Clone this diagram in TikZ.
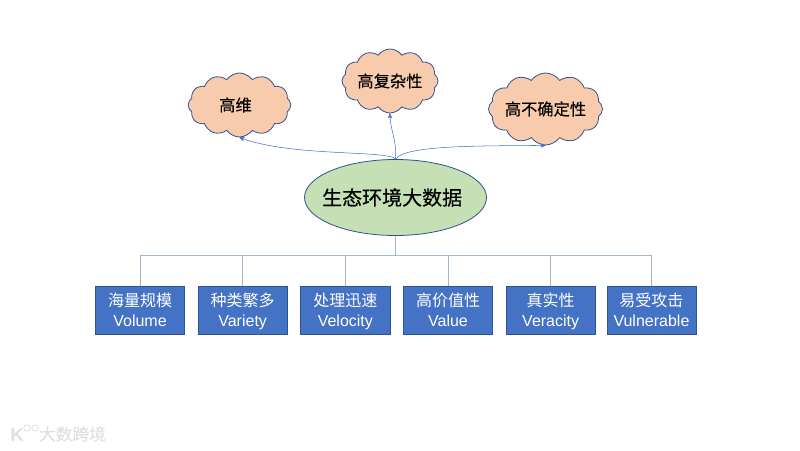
\documentclass[tikz,border=0pt]{standalone}
\usepackage{fontspec}
\setmainfont{Noto Sans CJK SC}
\newfontfamily\heavyfont[FakeBold=0.4]{Noto Sans CJK SC}
\newfontfamily\latinfont{Liberation Sans}
\usetikzlibrary{arrows,positioning,shapes}
\definecolor{boxblue}{HTML}{4472C4}
\definecolor{edgeblue}{HTML}{2F528F}
\definecolor{barblue}{HTML}{A3B8CC}
\definecolor{leafgreen}{HTML}{C5E0B4}
\definecolor{peach}{HTML}{F8CBAD}

\begin{document}
\begin{tikzpicture}[x=0.75pt,y=-0.75pt,>=stealth',node distance=9.6pt]
\tikzstyle{every cloud}=[cloud,cloud puffs=12,cloud puff arc=110,cloud ignores aspect,fill=peach,draw=edgeblue,semithick,inner sep=0pt,font=\heavyfont\fontsize{12.2}{14}\selectfont]
\tikzstyle{every box}=[rectangle,fill=boxblue,draw=edgeblue,text=white,minimum width=67pt,minimum height=36pt,inner sep=0pt,text depth=0pt,align=center,font=\fontsize{12}{15}\selectfont]
\tikzstyle{spread}=[->,color=boxblue,thin,shorten >=0pt]
\tikzstyle{bar}=[color=barblue,semithick]
\useasboundingbox (0,0) rectangle (800,450);

\node[ellipse,fill=leafgreen,draw=edgeblue,semithick,minimum width=136.5pt,minimum height=57pt,inner xsep=-6pt,inner ysep=0pt,font=\heavyfont\fontsize{15}{17}\selectfont] (data) at (395.5,197.5) {\hspace*{-5pt}生态环境大数据};

\node[every cloud,minimum width=77pt,minimum height=48pt] (dim) at (239.5,105) {\hspace*{-6pt}高维};
\node[every cloud,minimum width=72pt,minimum height=48pt] (cpx) at (390,81) {高复杂性};
\node[every cloud,minimum width=83pt,minimum height=54pt] (unc) at (545.5,109) {高不确定性};

\node[every box] (vol) at (140,310) {海量规模\\{\latinfont Volume}};
\node[every box] (var) [right=of vol] {种类繁多\\{\latinfont Variety}};
\node[every box] (vel) [right=of var] {处理迅速\\{\latinfont Velocity}};
\node[every box] (val) [right=of vel] {高价值性\\{\latinfont Value}};
\node[every box] (ver) [right=of val] {真实性\\{\latinfont Veracity}};
\node[every box] (vul) [right=8.2pt of ver] {易受攻击\\{\latinfont Vulnerable}};

% cloud arrows
\draw[spread] (data.north) .. controls (390,150) and (290,157) .. (dim.south);
\draw[spread] (data.north) .. controls (397,140) and (390,130) .. (cpx.south);
\draw[spread] (data.north) .. controls (405,145) and (480,146) .. (unc.south);

% tree below the ellipse
\coordinate (fork) at (395.5,255);
\foreach \n in {vol,var,vel,val,ver,vul}
  \draw[bar] (data.south) -- (fork) -| (\n.north);

% faint mark in the corner
\node[text=black!12,font=\heavyfont\fontsize{12.5}{14}\selectfont] (mark) at (72.5,434) {大数跨境};
\node[text=black!12,font=\latinfont\bfseries\fontsize{14}{14}\selectfont] (logo) at (17,435) {K};
\draw[black!12,semithick] (27,428) circle (3.2) (35,428) circle (3.2);
\end{tikzpicture}
\end{document}
